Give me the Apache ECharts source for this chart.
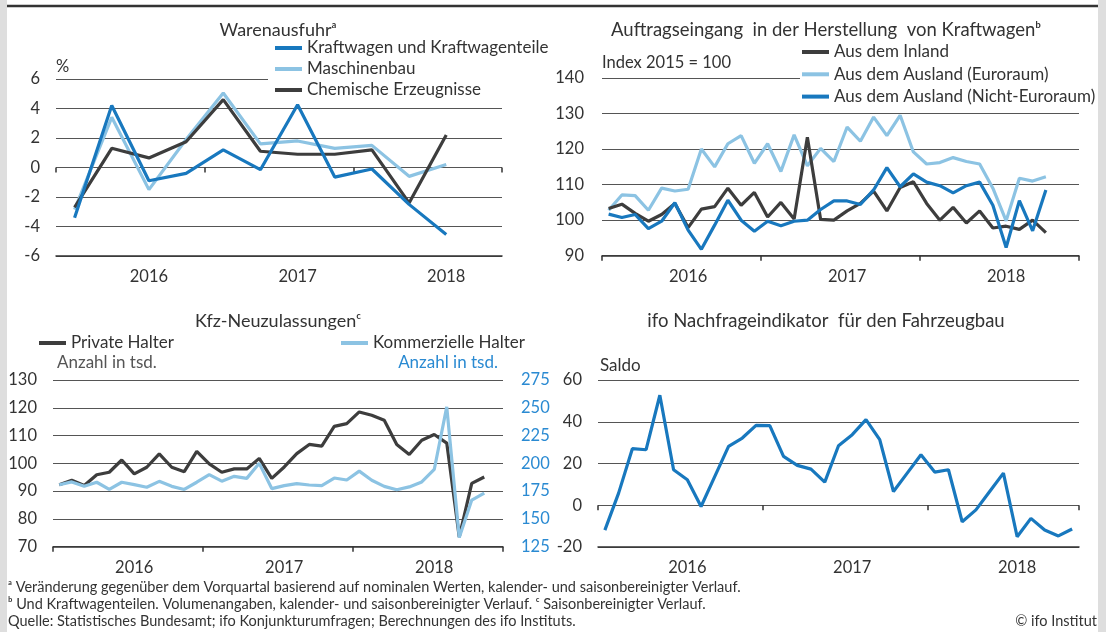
<!DOCTYPE html>
<html><head><meta charset="utf-8">
<script src="https://cdn.jsdelivr.net/npm/echarts@6/dist/echarts.min.js"></script>
<style>html,body{margin:0;padding:0;background:#fff}#c{width:1106px;height:632px}</style>
</head><body><div id="c"></div>
<script>
// ---------- categories ----------
const quarters = ['2016 Q1','2016 Q2','2016 Q3','2016 Q4','2017 Q1','2017 Q2','2017 Q3','2017 Q4','2018 Q1','2018 Q2','2018 Q3','2018 Q4'];
const months36 = ['2016-01','2016-02','2016-03','2016-04','2016-05','2016-06','2016-07','2016-08','2016-09','2016-10','2016-11','2016-12',
  '2017-01','2017-02','2017-03','2017-04','2017-05','2017-06','2017-07','2017-08','2017-09','2017-10','2017-11','2017-12',
  '2018-01','2018-02','2018-03','2018-04','2018-05','2018-06','2018-07','2018-08','2018-09','2018-10','2018-11','2018-12'];
const months35 = months36.slice(0, 35);

// ---------- Warenausfuhr (%, quarterly) ----------
const exportKfz   = [-3.4, 4.2, -0.9, -0.4, 1.2, -0.15, 4.25, -0.65, -0.1, -2.5, -4.55];
const exportMasch = [-2.85, 3.4, -1.5, 1.9, 5.05, 1.6, 1.8, 1.3, 1.5, -0.6, 0.2];
const exportChem  = [-2.7, 1.3, 0.65, 1.75, 4.6, 1.1, 0.9, 0.9, 1.2, -2.4, 2.2];

// ---------- Auftragseingang (Index 2015 = 100, monthly) ----------
const orderInland = [103.3, 104.5, 101.9, 99.7, 101.6, 104.7, 97.9, 103.1, 103.8, 109, 104.2, 107.8,
  100.9, 105, 100.3, 123.3, 100.2, 100, 102.6, 104.7, 108.2, 102.6, 109.2, 110.8,
  104.7, 100, 103.6, 99.2, 102.6, 97.8, 98.3, 97.4, 100, 96.5];
const orderEuro = [102.8, 107.1, 106.9, 102.8, 109, 108.2, 108.7, 120, 115, 121.5, 123.8, 116,
  121.5, 113.7, 124, 115.3, 120.2, 116.5, 126.2, 122.2, 129, 123.8, 129.5, 119.2,
  115.8, 116.2, 117.6, 116.5, 115.8, 109, 99.8, 111.8, 111, 112.2];
const orderNonEuro = [101.7, 100.75, 101.6, 97.6, 99.7, 104.9, 97.2, 91.8, 98.6, 105.6, 100, 96.9,
  99.7, 98.4, 99.7, 100, 103, 105.4, 105.4, 104.4, 108.5, 114.8, 109.4, 113,
  110.7, 109.7, 107.7, 109.7, 110.7, 104.2, 92.3, 105.5, 97, 108.5];

// ---------- Kfz-Neuzulassungen (tsd., monthly) ----------
const regPrivate = [92.3, 93.9, 92, 95.9, 96.8, 101.2, 96.2, 98.6, 103.4, 98.6, 97, 104.3,
  99.8, 96.8, 98, 98, 101.8, 94.6, 98.7, 103.5, 106.8, 106.2, 113.3, 114.3,
  118.5, 117.3, 115.5, 106.8, 103.2, 108.3, 110.4, 107.3, 73.5, 92.8, 95.1];
const regCommercial = [180.8, 183.3, 179.3, 183, 176.5, 183, 180.8, 178.5, 183.8, 179.3, 176.5, 183,
  189.8, 184, 188.3, 186.5, 200, 177.3, 180, 181.8, 180.5, 180, 186.8, 185,
  193, 184.8, 179.3, 176.3, 178.8, 183.3, 194.5, 250.8, 133.3, 167, 173.3];

// ---------- ifo Nachfrageindikator (Saldo, monthly) ----------
const ifoDemand = [-11.9, 5.8, 27.1, 26.6, 52.7, 17, 12.2, -0.6, 13.8, 28.2, 32.2, 38.3,
  38.1, 23.4, 19.1, 17.3, 11.1, 28.5, 33.8, 41, 31.4, 6.6, 15.4, 24.2,
  15.9, 17, -7.9, -2.2, 6.6, 15.4, -15.1, -6.3, -11.9, -14.7, -11.4];

// ---------- styling ----------
const FONT = 'Lato, "Noto Sans", sans-serif';
const TXT = '#333333';
const C_BLUE = '#1878be';
const C_LIGHT = '#8cc3e3';
const C_DARK = '#3d3d3d';
const C_RBLUE = '#2a8ad2';
const GRID_LINE = {lineStyle: {color: '#555', width: 1.2}};

const grids = [
  {left: 56, top: 79, width: 446, height: 177},
  {left: 602, top: 78, width: 477, height: 177.7},
  {left: 53, top: 380, width: 450, height: 166.7},
  {left: 598, top: 380, width: 481, height: 167}
];

function catAxis(gi, data, labelFn) {
  return {type: 'category', gridIndex: gi, data: data, boundaryGap: true,
    axisLine: {show: true, onZero: false, lineStyle: {color: '#333', width: 1.5}},
    axisTick: {show: false}, splitLine: {show: false},
    axisLabel: {interval: labelFn, formatter: v => v.slice(0, 4), fontSize: 16.5, color: TXT, fontFamily: FONT, margin: 12}};
}
function tickAxis(gi, max, interval) {
  return {type: 'value', gridIndex: gi, min: 0, max: max, interval: interval, position: 'bottom',
    axisLine: {show: false}, axisLabel: {show: false}, splitLine: {show: false},
    axisTick: {show: true, length: 5, lineStyle: {color: '#333', width: 1.5}}};
}
function valAxis(gi, min, max, interval, extra) {
  return Object.assign({type: 'value', gridIndex: gi, min: min, max: max, interval: interval,
    axisLine: {show: false}, axisTick: {show: false}, splitLine: Object.assign({show: true}, GRID_LINE),
    axisLabel: {fontSize: 16.5, color: TXT, fontFamily: FONT, margin: 16}}, extra || {});
}
function lineSeries(name, xi, yi, data, color, z) {
  return {name: name, type: 'line', xAxisIndex: xi, yAxisIndex: yi, data: data, symbol: 'none',
    lineStyle: {color: color, width: 3.2}, itemStyle: {color: color}, z: z || 2, silent: true};
}
const legendBase = {orient: 'vertical', icon: 'rect', itemWidth: 27, itemHeight: 4, backgroundColor: '#fff',
  textStyle: {fontSize: 17, color: TXT, fontFamily: FONT, lineHeight: 18}, selectedMode: false};

const option = {
  animation: false,
  grid: grids,
  xAxis: [
    catAxis(0, quarters, i => i % 4 === 2),
    catAxis(1, months36, i => i % 12 === 6),
    catAxis(2, months36, i => i % 12 === 6),
    catAxis(3, months35, i => i % 12 === 6),
    tickAxis(0, 3, 1), tickAxis(1, 3, 1), tickAxis(2, 3, 1), tickAxis(3, 35, 12)
  ],
  yAxis: [
    valAxis(0, -6, 6, 2),
    valAxis(1, 90, 140, 10, {axisLabel: {fontSize: 16.5, color: TXT, fontFamily: FONT, margin: 18}}),
    valAxis(2, 70, 130, 10),
    valAxis(2, 125, 275, 25, {position: 'right', splitLine: {show: false},
      axisLabel: {fontSize: 16.5, color: C_RBLUE, fontFamily: FONT, margin: 18}}),
    valAxis(3, -20, 60, 20)
  ],
  legend: [
    Object.assign({}, legendBase, {data: ['Kraftwagen und Kraftwagenteile', 'Maschinenbau', 'Chemische Erzeugnisse'],
      left: 268, top: 39, itemGap: 3, padding: [0, 4, 0, 7]}),
    Object.assign({}, legendBase, {data: ['Aus dem Inland', 'Aus dem Ausland (Euroraum)', 'Aus dem Ausland (Nicht-Euroraum)'],
      left: 800, top: 43, itemGap: 4.3, padding: [0, 1, 0, 2]}),
    Object.assign({}, legendBase, {data: ['Private Halter'], left: 39, top: 334, padding: 0, backgroundColor: 'transparent'}),
    Object.assign({}, legendBase, {data: ['Kommerzielle Halter'], left: 341, top: 334, padding: 0, backgroundColor: 'transparent'})
  ],
  series: [
    lineSeries('Maschinenbau', 0, 0, exportMasch, C_LIGHT, 2),
    lineSeries('Chemische Erzeugnisse', 0, 0, exportChem, C_DARK, 3),
    lineSeries('Kraftwagen und Kraftwagenteile', 0, 0, exportKfz, C_BLUE, 4),
    lineSeries('Aus dem Ausland (Euroraum)', 1, 1, orderEuro, C_LIGHT, 2),
    lineSeries('Aus dem Inland', 1, 1, orderInland, C_DARK, 3),
    lineSeries('Aus dem Ausland (Nicht-Euroraum)', 1, 1, orderNonEuro, C_BLUE, 4),
    lineSeries('Private Halter', 2, 2, regPrivate, C_DARK, 2),
    lineSeries('Kommerzielle Halter', 2, 3, regCommercial, C_LIGHT, 3),
    lineSeries('ifo Nachfrageindikator', 3, 4, ifoDemand, C_BLUE, 2)
  ],
  graphic: [
    {type: 'rect', shape: {x: 0, y: 0, width: 7, height: 632}, style: {fill: '#dedede'}, silent: true},
    {type: 'rect', shape: {x: 1098, y: 0, width: 8, height: 632}, style: {fill: '#dedede'}, silent: true},
    {type: 'line', shape: {x1: 7, y1: 6, x2: 1098, y2: 6}, style: {stroke: '#333', lineWidth: 2.5}, silent: true},
    {type: 'text', x: 278, y: 30, style: {text: 'Warenausfuhrᵃ', fontSize: 18, fontFamily: FONT, fill: TXT, textAlign: 'center', textVerticalAlign: 'middle'}},
    {type: 'text', x: 826, y: 30, style: {text: 'Auftragseingang  in der Herstellung  von Kraftwagenᵇ', fontSize: 18.5, fontFamily: FONT, fill: TXT, textAlign: 'center', textVerticalAlign: 'middle'}},
    {type: 'text', x: 278, y: 321, style: {text: 'Kfz-Neuzulassungenᶜ', fontSize: 18, fontFamily: FONT, fill: TXT, textAlign: 'center', textVerticalAlign: 'middle'}},
    {type: 'text', x: 826, y: 321, style: {text: 'ifo Nachfrageindikator  für den Fahrzeugbau', fontSize: 18.5, fontFamily: FONT, fill: TXT, textAlign: 'center', textVerticalAlign: 'middle'}},
    {type: 'text', x: 56, y: 67, style: {text: '%', fontSize: 16.5, fontFamily: FONT, fill: TXT, textVerticalAlign: 'middle'}},
    {type: 'text', x: 602, y: 63, style: {text: 'Index 2015 = 100', fontSize: 16.5, fontFamily: FONT, fill: TXT, textVerticalAlign: 'middle'}},
    {type: 'text', x: 57, y: 363, style: {text: 'Anzahl in tsd.', fontSize: 17, fontFamily: FONT, fill: '#555', textVerticalAlign: 'middle'}},
    {type: 'text', x: 498, y: 363, style: {text: 'Anzahl in tsd.', fontSize: 17, fontFamily: FONT, fill: C_RBLUE, textAlign: 'right', textVerticalAlign: 'middle'}},
    {type: 'text', x: 600, y: 366, style: {text: 'Saldo', fontSize: 17, fontFamily: FONT, fill: TXT, textVerticalAlign: 'middle'}},
    {type: 'text', x: 8, y: 587, style: {text: 'ᵃ Veränderung gegenüber dem Vorquartal basierend auf nominalen Werten, kalender- und saisonbereinigter Verlauf.', fontSize: 14.5, fontFamily: FONT, fill: TXT, textVerticalAlign: 'middle'}},
    {type: 'text', x: 8, y: 604, style: {text: 'ᵇ Und Kraftwagenteilen. Volumenangaben, kalender- und saisonbereinigter Verlauf. ᶜ Saisonbereinigter Verlauf.', fontSize: 14.5, fontFamily: FONT, fill: TXT, textVerticalAlign: 'middle'}},
    {type: 'text', x: 8, y: 621, style: {text: 'Quelle: Statistisches Bundesamt; ifo Konjunkturumfragen; Berechnungen des ifo Instituts.', fontSize: 14.5, fontFamily: FONT, fill: TXT, textVerticalAlign: 'middle'}},
    {type: 'text', x: 1097, y: 621, style: {text: '© ifo Institut', fontSize: 14.5, fontFamily: FONT, fill: TXT, textAlign: 'right', textVerticalAlign: 'middle'}}
  ]
};
const chart = echarts.init(document.getElementById('c'), null, {renderer: 'canvas'});
chart.setOption(option);
</script>
</body></html>
